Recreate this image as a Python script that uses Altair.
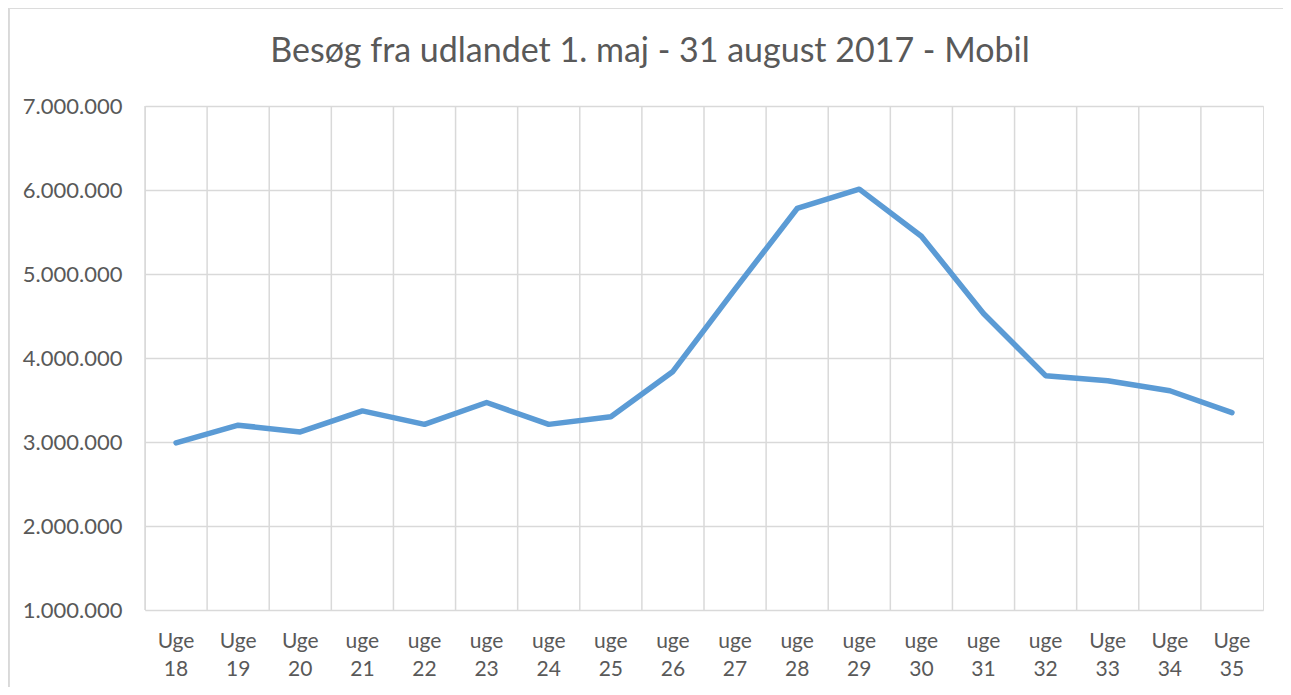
import altair as alt
import pandas as pd

weeks = ["Uge 18", "Uge 19", "Uge 20", "uge 21", "uge 22", "uge 23", "uge 24", "uge 25",
         "uge 26", "uge 27", "uge 28", "uge 29", "uge 30", "uge 31", "uge 32", "Uge 33",
         "Uge 34", "Uge 35"]
visits = [2990000, 3200000, 3120000, 3370000, 3210000, 3470000, 3210000, 3300000,
          3840000, 4820000, 5780000, 6010000, 5450000, 4530000, 3790000, 3730000,
          3610000, 3350000]
title_text = "Besøg fra udlandet 1. maj - 31 august 2017 - Mobil"

df = pd.DataFrame({"week": weeks, "visits": visits})

FONT = "Lato"
GREY = "#595959"
GRID = "#d9d9d9"

W, H = 1118, 504

xscale = alt.Scale(paddingInner=0, paddingOuter=0)
yscale = alt.Scale(domain=[1000000, 7000000])

xaxis = alt.Axis(title=None, labelExpr="split(datum.label, ' ')",
                 labelFont=FONT, labelFontSize=21, labelColor=GREY,
                 labelPadding=20, labelLineHeight=28, ticks=False, domain=False,
                 grid=False, labelAngle=0, labelOverlap=False)

base = alt.Chart(df)

vgrid = base.mark_rule(color=GRID, strokeWidth=1.5).encode(
    x=alt.X("week:N", sort=None, scale=xscale, bandPosition=0, axis=xaxis)
)

line = base.mark_line(color="#5b9bd5", strokeWidth=5.5, strokeCap="round", strokeJoin="round").encode(
    x=alt.X("week:N", sort=None, scale=xscale, axis=xaxis),
    y=alt.Y("visits:Q", scale=yscale,
            axis=alt.Axis(title=None, values=[1000000, 2000000, 3000000, 4000000, 5000000, 6000000, 7000000],
                          labelExpr="replace(replace(format(datum.value, ',d'), ',', '.'), ',', '.')",
                          labelFont=FONT, labelFontSize=22, labelColor=GREY,
                          labelPadding=23, ticks=False, domain=False,
                          grid=True, gridColor=GRID, gridWidth=1.5)),
)

frame_top = base.mark_rule(color=GRID, strokeWidth=1.5, clip=False).encode(
    x=alt.value(-137), x2=alt.value(W + 40), y=alt.value(-98.5)
)
frame_left = base.mark_rule(color=GRID, strokeWidth=1.5, clip=False).encode(
    x=alt.value(-136.5), y=alt.value(-98), y2=alt.value(H + 100)
)

chart = alt.layer(vgrid, line, frame_top, frame_left).properties(
    width=W, height=H,
    title=alt.TitleParams(title_text, font=FONT, fontSize=34, fontWeight="normal", color=GREY,
                          anchor="middle", frame="group", dx=-54, offset=0, dy=62),
    padding={"left": 137, "top": 98, "right": 20, "bottom": 77},
    autosize=alt.AutoSizeParams(type="none"),
).configure_view(stroke=GRID, strokeWidth=1.5).configure(background="white")

chart.save("out.html", embed_options={"renderer": "svg", "actions": False})
